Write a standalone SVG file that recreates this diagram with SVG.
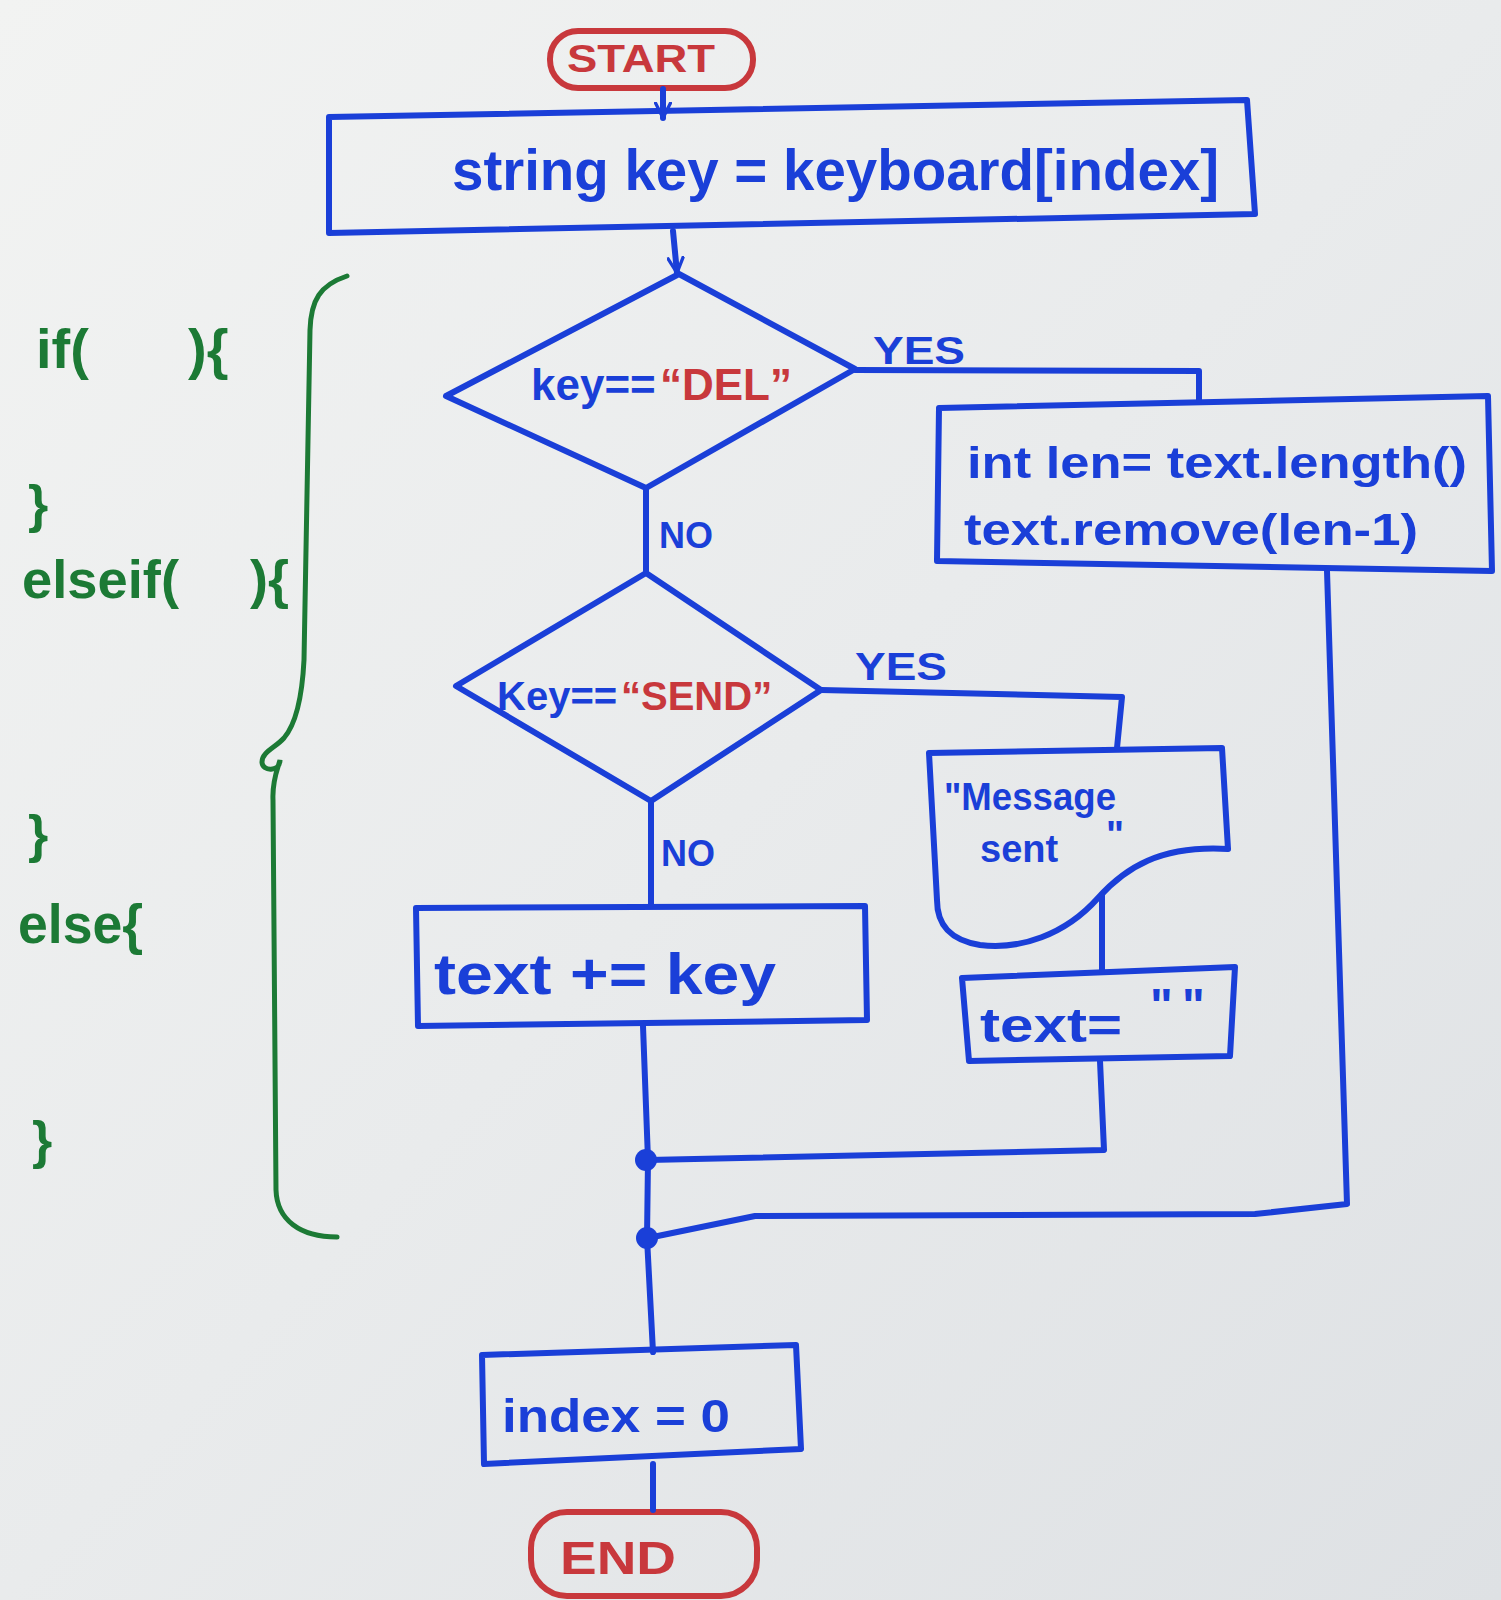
<svg xmlns="http://www.w3.org/2000/svg" width="1501" height="1600" viewBox="0 0 1501 1600">
<defs>
<linearGradient id="paper" x1="0" y1="0" x2="1" y2="1">
<stop offset="0" stop-color="#f2f3f2"/>
<stop offset="0.5" stop-color="#e9ebec"/>
<stop offset="1" stop-color="#dee1e4"/>
</linearGradient>
<marker id="arr" viewBox="0 0 12 12" refX="11" refY="6" markerWidth="3" markerHeight="3" orient="auto" markerUnits="strokeWidth">
<path d="M1,1 L11,6 L1,11" fill="none" stroke="#1a3fd8" stroke-width="2.2" stroke-linecap="round" stroke-linejoin="round"/>
</marker>
<style>
.b{fill:none;stroke:#1a3fd8;stroke-width:6;stroke-linejoin:round;stroke-linecap:round}
.r{fill:none;stroke:#c8383c;stroke-width:6}
.g{fill:none;stroke:#1c7a35;stroke-width:5;stroke-linecap:round}
.tb{fill:#1a3fd8;font-family:"Liberation Sans",Arial,sans-serif;font-weight:bold}
.tr{fill:#c8383c;font-family:"Liberation Sans",Arial,sans-serif;font-weight:bold}
.tg{fill:#1c7a35;font-family:"Liberation Sans",Arial,sans-serif;font-weight:bold}
.dot{fill:#1a3fd8}
</style>
</defs>
<rect x="0" y="0" width="1501" height="1600" fill="url(#paper)"/>

<g id="code-annotation">
<text class="tg" font-size="56" xml:space="preserve"><tspan x="36" y="368">if(</tspan><tspan>   </tspan><tspan x="188" y="368">){</tspan></text>
<text class="tg" x="28" y="522" font-size="52">}</text>
<text class="tg" font-size="54" xml:space="preserve"><tspan x="22" y="598" textLength="157" lengthAdjust="spacingAndGlyphs">elseif(</tspan><tspan>    </tspan><tspan x="250" y="598">){</tspan></text>
<text class="tg" x="28" y="852" font-size="52">}</text>
<text class="tg" x="18" y="943" font-size="56" textLength="125" lengthAdjust="spacingAndGlyphs">else{</text>
<text class="tg" x="32" y="1158" font-size="52">}</text>
<path class="g" d="M347,276 C320,285 311,300 310,330 L304,660 C302,700 295,725 284,738 C275,748 262,752 262,762 C262,772 280,772 280,760 C278,768 272,780 273,800 L276,1190 C277,1220 300,1237 337,1237"/>
</g>

<g id="start">
<rect class="r" x="550" y="31" width="203" height="57" rx="28"/>
<text class="tr" x="567" y="72" font-size="38" textLength="148" lengthAdjust="spacingAndGlyphs">START</text>
</g>

<g id="assign-key">
<polygon class="b" points="329,117 1247,100 1255,214 329,233"/>
<text class="tb" x="452" y="190" font-size="58" textLength="767" lengthAdjust="spacingAndGlyphs">string key = keyboard[index]</text>
</g>

<g id="if-del">
<polygon class="b" points="679,274 855,369 646,488 446,396"/>
<text font-size="44"><tspan class="tb" x="531" y="400">key==</tspan><tspan class="tr" x="660" y="400">“DEL”</tspan></text>
</g>

<g id="delete-char">
<polygon class="b" points="939,408 1488,396 1492,571 937,561"/>
<text class="tb" x="967" y="478" font-size="44" textLength="500" lengthAdjust="spacingAndGlyphs">int len= text.length()</text>
<text class="tb" x="964" y="545" font-size="44" textLength="454" lengthAdjust="spacingAndGlyphs">text.remove(len-1)</text>
</g>

<g id="if-send">
<polygon class="b" points="646,573 821,690 651,801 456,686"/>
<text font-size="40"><tspan class="tb" x="497" y="710">Key==</tspan><tspan class="tr" x="621" y="710">“SEND”</tspan></text>
</g>

<g id="output-message">
<path class="b" d="M929,753 L1222,748 L1228,849 C1160,845 1125,868 1098,898 C1065,935 1020,950 980,945 C950,940 937,925 937,900 Z"/>
<text class="tb" x="944" y="810" font-size="38" textLength="172" lengthAdjust="spacingAndGlyphs">"Message</text>
<text class="tb" font-size="38" xml:space="preserve"><tspan x="980" y="862">sent</tspan><tspan>  </tspan><tspan x="1106" y="848">"</tspan></text>
</g>

<g id="append-key">
<polygon class="b" points="416,908 865,906 867,1020 418,1026"/>
<text class="tb" x="434" y="994" font-size="58" textLength="342" lengthAdjust="spacingAndGlyphs">text += key</text>
</g>

<g id="clear-text">
<polygon class="b" points="962,978 1235,967 1230,1056 969,1061"/>
<text class="tb" font-size="48" xml:space="preserve"><tspan x="980" y="1042" textLength="142" lengthAdjust="spacingAndGlyphs">text=</tspan><tspan> </tspan><tspan x="1150" y="1022">"</tspan><tspan> </tspan><tspan x="1182" y="1022">"</tspan></text>
</g>

<g id="reset-index">
<polygon class="b" points="482,1355 796,1345 801,1449 484,1464"/>
<text class="tb" x="502" y="1432" font-size="46" textLength="228" lengthAdjust="spacingAndGlyphs">index = 0</text>
</g>

<g id="end">
<rect class="r" x="531" y="1512" width="226" height="84" rx="36"/>
<text class="tr" x="560" y="1574" font-size="46" textLength="116" lengthAdjust="spacingAndGlyphs">END</text>
</g>

<g id="connectors">
<line class="b" x1="663" y1="89" x2="663" y2="118" marker-end="url(#arr)"/>
<line class="b" x1="673" y1="231" x2="677" y2="273" marker-end="url(#arr)"/>
<polyline class="b" points="855,370 1199,371 1199,400"/>
<text class="tb" x="873" y="364" font-size="38" textLength="92" lengthAdjust="spacingAndGlyphs">YES</text>
<line class="b" x1="646" y1="488" x2="646" y2="573"/>
<text class="tb" x="659" y="548" font-size="36">NO</text>
<polyline class="b" points="821,690 1122,697 1117,748"/>
<text class="tb" x="855" y="680" font-size="38" textLength="92" lengthAdjust="spacingAndGlyphs">YES</text>
<line class="b" x1="651" y1="801" x2="651" y2="906"/>
<text class="tb" x="661" y="866" font-size="36">NO</text>
<line class="b" x1="1102" y1="895" x2="1102" y2="972"/>
<polyline class="b" points="1100,1061 1104,1150 648,1160"/>
<polyline class="b" points="1327,571 1347,1204 1255,1214 755,1216 648,1238"/>
<polyline class="b" points="643,1026 648,1160 647,1238 653,1352"/>
<line class="b" x1="653" y1="1464" x2="653" y2="1510"/>
<circle class="dot" cx="646" cy="1160" r="11"/>
<circle class="dot" cx="647" cy="1238" r="11"/>
</g>
</svg>
